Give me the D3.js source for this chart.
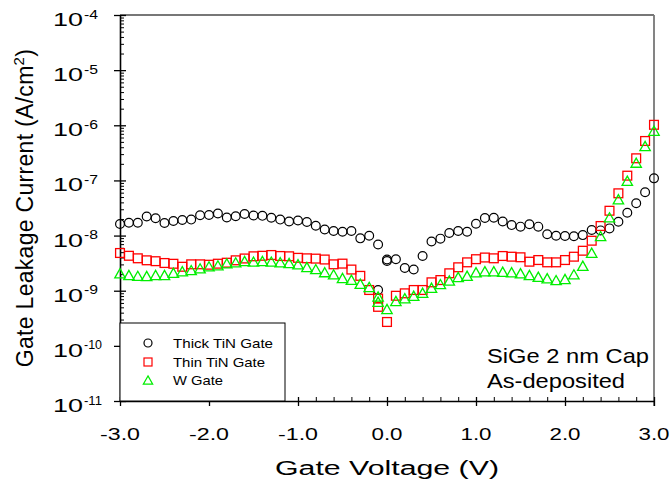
<!DOCTYPE html>
<html>
<head>
<meta charset="utf-8">
<script src="https://cdn.jsdelivr.net/npm/d3@7"></script>
<style>
  html, body { margin: 0; padding: 0; background: #fff; }
  text { font-family: "Liberation Sans", Arial, Helvetica, sans-serif; fill: #000; }
</style>
</head>
<body>
<svg id="chart" width="672" height="490"></svg>
<script>
// Gate leakage current density (A/cm^2) versus gate voltage (V)

const thickV = [-3.0,-2.9,-2.8,-2.7,-2.6,-2.5,-2.4,-2.3,-2.2,-2.1,
                -2.0,-1.9,-1.8,-1.7,-1.6,-1.5,-1.4,-1.3,-1.2,-1.1,
                -1.0,-0.9,-0.8,-0.7,-0.6,-0.5,-0.4,-0.3,-0.2,-0.1,
                -0.1, 0.0, 0.0,
                 0.1, 0.2, 0.3, 0.4, 0.5, 0.6, 0.7, 0.8, 0.9,
                 1.0, 1.1, 1.2, 1.3, 1.4, 1.5, 1.6, 1.7, 1.8, 1.9,
                 2.0, 2.1, 2.2, 2.3, 2.4, 2.5, 2.6, 2.7, 2.8, 2.9, 3.0];
const thickJ = [1.62e-8,1.71e-8,1.71e-8,2.22e-8,2.06e-8,1.69e-8,1.84e-8,1.92e-8,1.95e-8,2.33e-8,
                2.36e-8,2.51e-8,2.13e-8,2.24e-8,2.46e-8,2.31e-8,2.28e-8,2.10e-8,1.95e-8,1.80e-8,
                1.88e-8,1.76e-8,1.51e-8,1.29e-8,1.21e-8,1.17e-8,1.21e-8,8.9e-9,9.9e-9,6.9e-9,
                1.03e-9,3.68e-9,3.46e-9,
                3.71e-9,2.58e-9,2.42e-9,4.26e-9,7.8e-9,8.8e-9,1.11e-8,1.21e-8,1.17e-8,
                1.64e-8,2.08e-8,2.11e-8,1.80e-8,1.55e-8,1.45e-8,1.60e-8,1.45e-8,1.06e-8,9.9e-9,
                9.8e-9,9.7e-9,1.02e-8,1.26e-8,1.24e-8,1.35e-8,1.78e-8,2.60e-8,3.85e-8,6.09e-8,1.09e-7];

const thinV = [-3.0,-2.9,-2.8,-2.7,-2.6,-2.5,-2.4,-2.3,-2.2,-2.1,
               -2.0,-1.9,-1.8,-1.7,-1.6,-1.5,-1.4,-1.3,-1.2,-1.1,
               -1.0,-0.9,-0.8,-0.7,-0.6,-0.5,-0.4,-0.3,-0.2,-0.1,
               -0.1,
                0.0, 0.1, 0.2, 0.3, 0.4, 0.5, 0.6, 0.7, 0.8, 0.9,
                1.0, 1.1, 1.2, 1.3, 1.4, 1.5, 1.6, 1.7, 1.8, 1.9,
                2.0, 2.1, 2.2, 2.3, 2.4, 2.5, 2.6, 2.7, 2.8, 2.9, 3.0];
const thinJ = [4.83e-9,4.30e-9,3.87e-9,3.56e-9,3.43e-9,3.18e-9,3.08e-9,2.72e-9,3.01e-9,3.01e-9,
               2.96e-9,3.09e-9,3.22e-9,3.56e-9,3.84e-9,4.21e-9,4.30e-9,4.44e-9,4.26e-9,4.21e-9,
               3.95e-9,3.87e-9,3.82e-9,3.68e-9,3.01e-9,3.10e-9,2.42e-9,1.86e-9,1.03e-9,7.2e-10,
               5.1e-10,
               2.71e-10,8.1e-10,8.97e-10,1.03e-9,1.03e-9,1.42e-9,1.56e-9,2.07e-9,2.66e-9,3.27e-9,
               3.73e-9,4.0e-9,3.87e-9,4.26e-9,4.14e-9,4.04e-9,3.36e-9,3.60e-9,3.27e-9,3.27e-9,
               3.60e-9,4.14e-9,5.31e-9,8.07e-9,1.49e-8,2.82e-8,5.84e-8,1.22e-7,2.52e-7,5.19e-7,1.02e-6];

const wV = thinV.slice();
const wJ = [2.07e-9,1.93e-9,1.86e-9,1.85e-9,1.93e-9,1.93e-9,2.12e-9,2.26e-9,2.37e-9,2.55e-9,
            2.77e-9,2.89e-9,3.14e-9,3.27e-9,3.46e-9,3.38e-9,3.46e-9,3.38e-9,3.29e-9,3.18e-9,
            3.02e-9,2.69e-9,2.47e-9,2.17e-9,1.98e-9,1.70e-9,1.58e-9,1.34e-9,1.17e-9,7.85e-10,
            6.3e-10,
            4.66e-10,6.5e-10,7.3e-10,8.1e-10,9.2e-10,1.13e-9,1.32e-9,1.53e-9,1.77e-9,1.87e-9,
            2.16e-9,2.26e-9,2.26e-9,2.21e-9,2.16e-9,2.07e-9,1.93e-9,1.79e-9,1.68e-9,1.56e-9,
            1.63e-9,1.98e-9,2.84e-9,4.89e-9,9.8e-9,2.14e-8,4.55e-8,9.88e-8,2.10e-7,4.21e-7,7.98e-7];

const seriesNames = ["Thick TiN Gate", "Thin TiN Gate", "W Gate"];
const xTickLabels = [-3, -2, -1, 0, 1, 2, 3];
const yTickExponents = [-4, -5, -6, -7, -8, -9, -10, -11];
const noteLines = ["SiGe 2 nm Cap", "As-deposited"];

(function draw() {
  const svg = d3.select("#chart");

  const pLeft = 120, pRight = 654, pTop = 15, pBottom = 401;
  const x = d3.scaleLinear().domain([-3, 3]).range([pLeft, pRight]);
  const y = d3.scaleLog().domain([1e-11, 1e-4]).range([pBottom, pTop]);

  // right and top frame lines
  svg.append("line").attr("x1", pLeft).attr("x2", pRight).attr("y1", pTop).attr("y2", pTop)
    .attr("stroke", "#777").attr("stroke-width", 1.8);
  svg.append("line").attr("x1", pRight).attr("x2", pRight).attr("y1", pTop).attr("y2", pBottom + 5)
    .attr("stroke", "#777").attr("stroke-width", 1.8);

  const majorY = yTickExponents.map(e => Math.pow(10, e));
  const minorY = y.ticks().filter(v => {
    const l = Math.log10(v);
    return Math.abs(l - Math.round(l)) > 1e-6;
  });

  function cleanAxis(g, width) {
    g.selectAll("text").remove();
    g.selectAll("line").attr("stroke", "#000").attr("stroke-width", width);
  }

  // y axis: major ticks crossing the axis, minor ticks inward
  svg.append("g").attr("transform", `translate(${pLeft},0)`)
    .call(d3.axisLeft(y).tickValues(majorY).tickSize(6).tickSizeOuter(0).tickFormat(""))
    .call(g => { cleanAxis(g, 1.3); g.select(".domain").attr("stroke", "#000").attr("stroke-width", 1.6); });
  svg.append("g").attr("transform", `translate(${pLeft},0)`)
    .call(d3.axisRight(y).tickValues(majorY).tickSize(6).tickSizeOuter(0).tickFormat(""))
    .call(g => { cleanAxis(g, 1.3); g.select(".domain").remove(); });
  svg.append("g").attr("transform", `translate(${pLeft},0)`)
    .call(d3.axisRight(y).tickValues(minorY).tickSize(4).tickSizeOuter(0).tickFormat(""))
    .call(g => { cleanAxis(g, 1); g.select(".domain").remove(); });

  // x axis
  const majorX = x.ticks(6);
  const minorX = d3.range(-30, 31, 2).map(d => d / 10).filter(v => Math.abs(v - Math.round(v)) > 1e-6);
  svg.append("g").attr("transform", `translate(0,${pBottom})`)
    .call(d3.axisBottom(x).tickValues(majorX).tickSize(5).tickSizeOuter(0).tickFormat(""))
    .call(g => { cleanAxis(g, 1.3); g.select(".domain").attr("stroke", "#000").attr("stroke-width", 1.6); });
  svg.append("g").attr("transform", `translate(0,${pBottom})`)
    .call(d3.axisTop(x).tickValues(majorX).tickSize(4).tickSizeOuter(0).tickFormat(""))
    .call(g => { cleanAxis(g, 1.3); g.select(".domain").remove(); });
  svg.append("g").attr("transform", `translate(0,${pBottom})`)
    .call(d3.axisTop(x).tickValues(minorX).tickSize(4).tickSizeOuter(0).tickFormat(""))
    .call(g => { cleanAxis(g, 1); g.select(".domain").remove(); });

  // y tick labels as 10 with superscript exponent
  const yl = svg.append("g");
  yTickExponents.forEach(e => {
    const py = y(Math.pow(10, e));
    yl.append("text").attr("x", 53).attr("y", py + 11)
      .attr("font-size", 18).attr("textLength", 30).attr("lengthAdjust", "spacingAndGlyphs")
      .text("10");
    const s = String(e);
    yl.append("text").attr("x", 84).attr("y", py + 3.5)
      .attr("font-size", 12.5).attr("textLength", s.length > 2 ? 18 : 14)
      .attr("lengthAdjust", "spacingAndGlyphs").text(s);
  });

  // x tick labels
  const fmt = d3.format(".1f");
  svg.append("g").selectAll("text").data(xTickLabels).join("text")
    .attr("x", d => x(d)).attr("y", 440)
    .attr("text-anchor", "middle").attr("font-size", 16.5)
    .attr("textLength", d => d < 0 ? 40 : 31).attr("lengthAdjust", "spacingAndGlyphs")
    .text(d => fmt(d).replace("\u2212", "-"));

  // axis titles
  svg.append("text").attr("x", 387).attr("y", 475).attr("text-anchor", "middle")
    .attr("font-size", 20).attr("textLength", 224).attr("lengthAdjust", "spacingAndGlyphs")
    .text("Gate Voltage (V)");

  const yt = svg.append("text").attr("transform", "translate(33,208) rotate(-90)")
    .attr("text-anchor", "middle").attr("font-size", 23).attr("letter-spacing", 0.3);
  yt.append("tspan").text("Gate Leakage Current (A/cm");
  yt.append("tspan").attr("font-size", 15).attr("dy", -9).text("2");
  yt.append("tspan").attr("dy", 9).text(")");

  // markers
  const tri = (s) => `M0,${-s * 0.46}L${s * 0.52},${s * 0.46}L${-s * 0.52},${s * 0.46}Z`;
  const plot = svg.append("g");

  plot.append("g").selectAll("circle").data(d3.zip(thickV, thickJ)).join("circle")
    .attr("cx", d => x(d[0])).attr("cy", d => y(d[1])).attr("r", 4.4)
    .attr("fill", "none").attr("stroke", "#000").attr("stroke-width", 1.2);

  plot.append("g").selectAll("rect").data(d3.zip(thinV, thinJ)).join("rect")
    .attr("x", d => x(d[0]) - 4.4).attr("y", d => y(d[1]) - 4.4)
    .attr("width", 8.8).attr("height", 8.8)
    .attr("fill", "none").attr("stroke", "#ff0000").attr("stroke-width", 1.3);

  plot.append("g").selectAll("path").data(d3.zip(wV, wJ)).join("path")
    .attr("transform", d => `translate(${x(d[0])},${y(d[1])})`)
    .attr("d", tri(10))
    .attr("fill", "none").attr("stroke", "#00ee00").attr("stroke-width", 1.3);

  // legend
  const lg = svg.append("g");
  lg.append("rect").attr("x", pLeft).attr("y", 323).attr("width", 165).attr("height", pBottom - 323)
    .attr("fill", "#fff").attr("stroke", "#000").attr("stroke-width", 1);
  const legendY = [343, 362, 380];
  const legendLen = [100, 92, 50];
  lg.append("circle").attr("cx", 148).attr("cy", legendY[0]).attr("r", 4)
    .attr("fill", "none").attr("stroke", "#000").attr("stroke-width", 1.2);
  lg.append("rect").attr("x", 144).attr("y", legendY[1] - 4).attr("width", 8).attr("height", 8)
    .attr("fill", "none").attr("stroke", "#ff0000").attr("stroke-width", 1.2);
  lg.append("path").attr("transform", `translate(148,${legendY[2]})`).attr("d", tri(9))
    .attr("fill", "none").attr("stroke", "#00ee00").attr("stroke-width", 1.2);
  seriesNames.forEach((n, i) => {
    lg.append("text").attr("x", 173).attr("y", legendY[i] + 4.7)
      .attr("font-size", 13).attr("textLength", legendLen[i]).attr("lengthAdjust", "spacingAndGlyphs")
      .text(n);
  });

  // sample note
  const noteLen = [162, 138];
  noteLines.forEach((t, i) => {
    svg.append("text").attr("x", 487).attr("y", 363 + i * 25)
      .attr("font-size", 21).attr("textLength", noteLen[i]).attr("lengthAdjust", "spacingAndGlyphs")
      .text(t);
  });
})();
</script>
</body>
</html>
